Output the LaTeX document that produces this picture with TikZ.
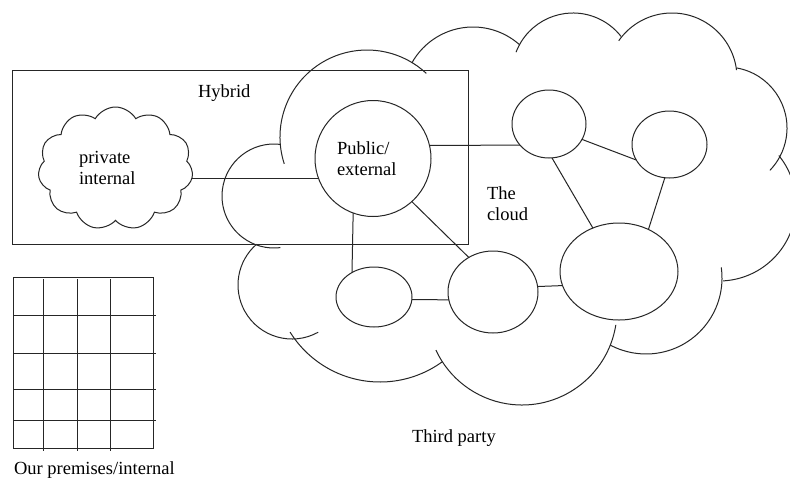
\documentclass[tikz,border=0pt]{standalone}
\usepackage{fontspec}
\setmainfont{Liberation Serif}
\usetikzlibrary{shapes.geometric,shapes.symbols}
\begin{document}
\begin{tikzpicture}[x=1pt,y=-1pt,
  ln/.style={line width=1pt, draw=black!85},
  nd/.style={ellipse, ln, inner sep=0pt, outer sep=0pt},
  lbl/.style={anchor=base west, inner sep=0pt, outer sep=0pt, text=black,
    font=\fontsize{18.5}{21}\selectfont},
  lobe/.style={ln},
]
\clip (0,0) rectangle (790,477);
\fill[white] (0,0) rectangle (790,477);

% Hybrid box
\node[draw, ln, rectangle, anchor=north west, inner sep=0pt, outer sep=0pt,
  minimum width=456pt, minimum height=174pt] (hyb) at (12,70) {};

% big cloud (third party), drawn as overlapping lobes
\draw[lobe] (367,137) ++(198:87pt) arc[start angle=198, end angle=47, radius=87pt];
\draw[lobe] (473,97)  ++(151:70pt) arc[start angle=151, end angle=48, radius=70pt];
\draw[lobe] (573,74)  ++(159:61pt) arc[start angle=159, end angle=38, radius=61pt];
\draw[lobe] (672,78)  ++(145:65pt) arc[start angle=145, end angle=7, radius=65pt];
\draw[lobe] (726,128) ++(80:61pt)  arc[start angle=80, end angle=-44, radius=61pt];
\draw[lobe] (719,204) ++(39:77pt)  arc[start angle=39, end angle=-87, radius=77pt];
\draw[lobe] (646,278) ++(8:76pt)   arc[start angle=8, end angle=-118, radius=76pt];
\draw[lobe] (522,310) ++(-9:95pt)  arc[start angle=-9, end angle=-155, radius=95pt];
\draw[lobe] (380,276) ++(-54:106pt) arc[start angle=-54, end angle=-148, radius=106pt];
\draw[lobe] (292,285) ++(-61:54pt) arc[start angle=-61, end angle=-229, radius=54pt];
\draw[lobe] (274,196) ++(83:52pt)  arc[start angle=83, end angle=277, radius=52pt];

% private cloud
\node[cloud, draw, ln, cloud puffs=11, cloud puff arc=120, aspect=1.26,
  inner sep=0pt, outer sep=0pt, minimum width=155pt, minimum height=123pt] (priv) at (115.5,168.5) {};

% network nodes
\node[nd, circle, minimum size=116pt] (pub) at (373,158.5) {};
\node[nd, minimum width=74pt, minimum height=68pt] (na) at (549,124) {};
\node[nd, minimum width=75pt, minimum height=67pt] (nb) at (669.5,144.5) {};
\node[nd, minimum width=118pt, minimum height=97pt] (nc) at (619,271.5) {};
\node[nd, minimum width=90pt, minimum height=82pt] (nd) at (493,292) {};
\node[nd, minimum width=76pt, minimum height=60pt] (ne) at (374,297) {};

% connectors
\coordinate (pp) at (pub.200);
\draw[ln] (pp -| priv.east) -- (pp);
\draw[ln] (pub.13) -- (na.216);
\draw[ln] (na.-25) -- (nb.205);
\draw[ln] (na.-85) -- (nc.121);
\draw[ln] (nb.-98) -- (nc.55);
\draw[ln] (pub.-110) -- (ne.132);
\draw[ln] (pub.-48) -- (nd.125);
\draw[ln] (ne.-4.5) -- (nd.190);
\draw[ln] (nd.7.7) -- (nc.194);

% premises grid
\draw[ln] (13,277) rectangle (153,448);
\foreach \x in {43,77,110} \draw[ln] (\x,279) -- (\x,451);
\foreach \y in {315,353,389,420} \draw[ln] (13,\y) -- (156,\y);

% labels
\node[lbl] (thyb) at (198,97) {Hybrid};
\node[lbl] (tpub) at (337,154) {\begin{tabular}[t]{@{}l@{}}Public/\\external\end{tabular}};
\node[lbl] (tpriv) at (79,163) {\begin{tabular}[t]{@{}l@{}}private\\internal\end{tabular}};
\node[lbl] (tcloud) at (487,199) {\begin{tabular}[t]{@{}l@{}}The\\cloud\end{tabular}};
\node[lbl] (tthird) at (412,442) {Third party};
\node[lbl] (tprem) at (14,474) {Our premises/internal};
\end{tikzpicture}
\end{document}
